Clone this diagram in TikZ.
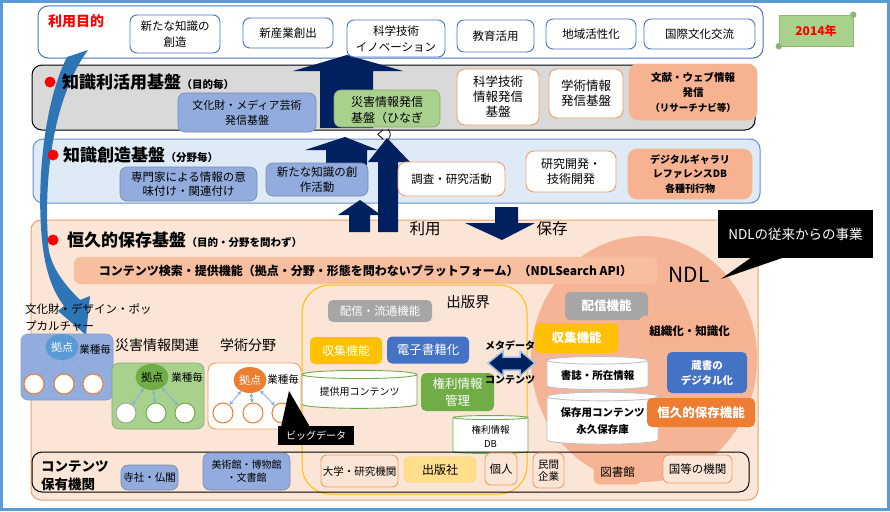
\documentclass[tikz,border=0pt]{standalone}
\usepackage{fontspec}
\setmainfont{Noto Sans CJK JP}
\usepackage{tikz}
\usetikzlibrary{arrows.meta, shapes.geometric, positioning}
\newcommand{\fsz}[2]{\fontsize{#1}{#2}\selectfont}

\definecolor{frameblue}{RGB}{91,155,213}
\definecolor{lineblue}{RGB}{68,114,196}
\definecolor{bandgray}{RGB}{217,217,217}
\definecolor{bandlblue}{RGB}{222,235,247}
\definecolor{bandorange}{RGB}{251,229,214}
\definecolor{boxblue}{RGB}{146,172,221}
\definecolor{boxgreen}{RGB}{169,209,142}
\definecolor{boxsalmon}{RGB}{246,178,145}
\definecolor{searchsalmon}{RGB}{247,190,160}
\definecolor{lineorange}{RGB}{240,160,100}
\definecolor{ndlfill}{RGB}{246,180,150}
\definecolor{navy}{RGB}{0,32,96}
\definecolor{swoosh}{RGB}{46,117,182}
\definecolor{gold}{RGB}{255,192,0}
\definecolor{paleyellow}{RGB}{255,222,140}
\definecolor{deepblue}{RGB}{68,114,196}
\definecolor{grassgreen}{RGB}{112,173,71}
\definecolor{pumpkin}{RGB}{237,125,49}
\definecolor{midgray}{RGB}{166,166,166}
\definecolor{hubblue}{RGB}{91,155,213}
\definecolor{arrowrim}{RGB}{157,195,230}

\tikzset{>=Stealth,
  band/.style={rounded corners=10, line width=1, inner sep=0},
  ubox/.style={draw=lineblue, fill=white, rounded corners=7, line width=0.9, align=center, inner sep=1, font=\fsz{11.5}{16}},
  obox/.style={draw=lineorange, fill=white, rounded corners=8, line width=0.9, align=center, inner sep=1, font=\fsz{12.5}{15}},
  bbox/.style={draw=boxblue!80!black, fill=boxblue, rounded corners=7, line width=0.6, align=center, inner sep=1, font=\fsz{11}{15}},
  gbox/.style={draw=boxgreen!80!black, fill=boxgreen, rounded corners=7, line width=0.6, align=center, inner sep=1},
  sbox/.style={draw=lineorange!70, fill=boxsalmon, rounded corners=9, line width=0.8, align=center, inner sep=1, font=\bfseries\fsz{10.5}{15}},
  func/.style={rounded corners=5, align=center, inner sep=1, text=white, font=\fsz{12.5}{15}},
  store/.style={cylinder, shape border rotate=90, aspect=0.1, draw=#1, line width=0.9, fill=white, align=center, inner sep=1},
  hub/.style={ellipse, minimum width=33, minimum height=26, inner sep=0, font=\fsz{11}{13}},
  member/.style={circle, minimum size=20, inner sep=0, fill=white, draw=#1, line width=1},
  hubarrow/.style={<->, >={Stealth[length=4pt, width=4pt]}, draw=hubblue!80, line width=0.8},
  dot/.style={circle, fill=red, minimum size=11, inner sep=0},
  ttl/.style={anchor=west, inner sep=0, font=\bfseries\fsz{17}{18}},
  ttlsub/.style={anchor=base west, inner sep=0, font=\bfseries\fsz{10.5}{12}},
  plain/.style={inner sep=0, align=left},
  blackbox/.style={fill=black, text=white, inner sep=0},
  orgbox/.style={draw=lineorange, fill=bandorange, rounded corners=6, line width=0.9, align=center, inner sep=1, font=\fsz{10.5}{13}},
}

\begin{document}
\begin{tikzpicture}[x=1pt, y=-1pt]
\useasboundingbox (0,0) rectangle (890,511);
\draw[frameblue, line width=3] (1.5,1.5) rectangle (888.5,509.5);

% bands
\node[band, draw=lineblue, fill=white, minimum width=725, minimum height=52] (purpose) at (400.5,32) {};
\node[band, draw=black, fill=bandgray, minimum width=723, minimum height=65] (usebase) at (393.5,97.5) {};
\node[band, draw=lineblue!80, fill=bandlblue, minimum width=727, minimum height=64] (createbase) at (396.5,171) {};
\node[band, draw=lineorange, fill=bandorange, minimum width=727, minimum height=280] (keepbase) at (394.5,360) {};

% swoosh from the cultural field up to the purposes
\fill[swoosh] (67,57) .. controls (45,100) and (36,180) .. (42,240) .. controls (45,270) and (52,290) .. (64,306) -- (58,311) -- (86,335) -- (90,296) -- (80,300) .. controls (60,280) and (48,262) .. (48,240) .. controls (44,180) and (52,100) .. (88,50) -- cycle;

% block arrows
\fill[navy] (320,128) -- (320,71) -- (293,71) -- (347,55) -- (403,71) -- (373,71) -- (373,128) -- cycle;
\fill[navy] (326,165) -- (326,150) -- (305,150) -- (345,137) -- (378,150) -- (367,150) -- (367,165) -- cycle;
\fill[navy] (349,232) -- (349,215) -- (338,215) -- (360,200) -- (381,215) -- (370,215) -- (370,232) -- cycle;
\fill[navy] (378,232) -- (378,162) -- (368,162) -- (387,138) -- (410,162) -- (398,162) -- (398,232) -- cycle;
\fill[navy] (495,207) -- (518,207) -- (518,223) -- (535,223) -- (502,240) -- (465,223) -- (495,223) -- cycle;
\node[inner sep=0, font=\fsz{15.5}{16}] (use) at (425,229) {利用};
\node[inner sep=0, font=\fsz{15.5}{16}] (keep) at (552,229) {保存};

% purposes
\node[inner sep=0, text=red, font=\bfseries\fsz{14}{16}, anchor=west] (purposettl) at (48,21) {利用目的};
\node[ubox, minimum width=90, minimum height=38] (newknow) at (175,34) {新たな知識の\\創造};
\node[ubox, minimum width=90, minimum height=30] (industry) at (288,33) {新産業創出};
\node[ubox, minimum width=98, minimum height=37] (innov) at (396,38.5) {科学技術\\イノベーション};
\node[ubox, minimum width=77, minimum height=32] (edu) at (495.5,36) {教育活用};
\node[ubox, minimum width=90, minimum height=30] (region) at (591,34) {地域活性化};
\node[ubox, minimum width=111, minimum height=30] (intl) at (699.5,34) {国際文化交流};

\node[draw=grassgreen!80, fill=boxgreen, minimum width=74, minimum height=31, text=red, font=\bfseries\fsz{12}{14}] (year) at (816,30.5) {2014年};
\draw[grassgreen!80, fill=boxgreen!85!black] (year.north east) circle (3pt);
\draw[grassgreen!80, fill=boxgreen!85!black] (year.south west) circle (3pt);

% knowledge use
\node[dot] (dotuse) at (50,82) {};
\node[ttl] (usettl) at (62,82) {知識利活用基盤};
\node[ttlsub] (usesub) at (usettl.base east) {（目的毎）};
\node[bbox, minimum width=138, minimum height=39] (media) at (247,112.5) {文化財・メディア芸術\\発信基盤};
\node[gbox, minimum width=106, minimum height=37] (hinagiku) at (387,108.5) {};
\node[inner sep=0, align=center, anchor=north, font=\fsz{12}{16.5}] (hinagikutxt) at (387,96) {災害情報発信\\基盤（ひなぎ\\く）};
\node[obox, minimum width=82, minimum height=56] (scitech) at (498,97) {科学技術\\情報発信\\基盤};
\node[obox, minimum width=74, minimum height=49] (academic) at (586,93.5) {学術情報\\発信基盤};
\node[sbox, minimum width=128, minimum height=56] (research) at (693,92) {文献・ウェブ情報\\発信\\{\fsz{9.5}{12}（リサーチナビ等）}};

% knowledge creation
\node[dot] (dotcreate) at (53,155) {};
\node[ttl] (createttl) at (63,155) {知識創造基盤};
\node[ttlsub] (createsub) at (createttl.base east) {（分野毎）};
\node[bbox, minimum width=137, minimum height=34, font=\fsz{11.5}{14}] (expert) at (188.5,184) {専門家による情報の意\\味付け・関連付け};
\node[bbox, minimum width=102, minimum height=33, font=\fsz{11.5}{15}] (creation) at (317,179.5) {新たな知識の創\\作活動};
\node[obox, minimum width=107, minimum height=34, font=\fsz{11.5}{14}] (survey) at (451.5,179) {調査・研究活動};
\node[obox, minimum width=90, minimum height=41, font=\fsz{12}{15}] (rnd) at (571,171.5) {研究開発・\\技術開発};
\node[sbox, minimum width=124, minimum height=50, font=\bfseries\fsz{10}{14.5}] (gallery) at (690,174) {デジタルギャラリ\\レファレンスDB\\各種刊行物};

% permanent preservation
\node[dot] (dotkeep) at (53,240) {};
\node[ttl] (keepttl) at (67,240) {恒久的保存基盤};
\node[ttlsub] (keepsub) at (keepttl.base east) {（目的・分野を問わず）};

\fill[ndlfill] (644,359) ellipse [x radius=113pt, y radius=123pt];
\node[draw=lineorange!60, fill=searchsalmon, rounded corners=7, minimum width=583, minimum height=27, font=\bfseries\fsz{12}{14}] (search) at (365.5,270.5) {コンテンツ検索・提供機能（拠点・分野・形態を問わないプラットフォーム）（NDLSearch API）};
\node[inner sep=0, font=\fsz{21}{22}] (ndl) at (689,275) {NDL};
\node[blackbox, minimum width=155, minimum height=48, font=\fsz{13.5}{15}] (legacy) at (795.5,234) {NDLの従来からの事業};
\fill[black] (752,257) -- (721,279) -- (785,257) -- cycle;

% publishing world
\node[draw=gold, line width=1, rounded corners=28, minimum width=225, minimum height=209] (pub) at (414.5,389.5) {};
\node[inner sep=0, font=\fsz{14.5}{16}] (pubttl) at (468,302) {出版界};
\node[func, fill=midgray, minimum width=104, minimum height=22, font=\fsz{11.5}{13}] (pubdeliver) at (380,311) {配信・流通機能};
\node[func, fill=gold, minimum width=72, minimum height=27, font=\fsz{12}{14}] (pubcollect) at (346,350.5) {収集機能};
\node[func, fill=deepblue, minimum width=82, minimum height=27] (ebook) at (428,350) {電子書籍化};
\node[store=grassgreen, minimum width=115, minimum height=38, font=\fsz{10}{12}] (offer) at (359.5,392) {提供用コンテンツ};
\node[func, fill=grassgreen, minimum width=73, minimum height=38, font=\fsz{12.5}{17}] (rights) at (457.5,392) {権利情報\\管理};
\node[store=grassgreen, minimum width=75, minimum height=38, font=\fsz{9.5}{14}] (rightsdb) at (490.5,436) {権利情報\\DB};

% metadata exchange
\filldraw[fill=navy, draw=arrowrim, line width=1.5] (488,363) -- (503,351) -- (503,357) -- (520,357) -- (520,351) -- (535,363) -- (520,376) -- (520,370) -- (503,370) -- (503,376) -- cycle;
\node[inner sep=0, font=\bfseries\fsz{10}{12}] (meta) at (510,346) {メタデータ};
\node[inner sep=0, font=\bfseries\fsz{10}{12}] (contents) at (510,380) {コンテンツ};

% NDL functions
\node[func, fill=midgray, minimum width=83, minimum height=28, font=\bfseries\fsz{12.5}{14}] (ndldeliver) at (606.5,306) {配信機能};
\node[func, fill=gold, minimum width=83, minimum height=30, font=\bfseries\fsz{12.5}{14}] (ndlcollect) at (576.5,338) {収集機能};
\node[sbox, minimum width=103, minimum height=30, font=\bfseries\fsz{11.5}{14}] (organize) at (689.5,331) {組織化・知識化};
\node[store=midgray!70, minimum width=101, minimum height=33, font=\bfseries\fsz{10.5}{12}] (biblio) at (597.5,375.5) {書誌・所在情報};
\node[func, fill=deepblue, minimum width=80, minimum height=41, font=\bfseries\fsz{10.5}{15}] (digitize) at (707,372.5) {蔵書の\\デジタル化};
\node[store=midgray!70, minimum width=111, minimum height=52, font=\bfseries\fsz{10.5}{17}] (archive) at (602.5,421) {保存用コンテンツ\\永久保存庫};
\node[func, fill=pumpkin, minimum width=108, minimum height=29, font=\bfseries\fsz{12.5}{14}] (preserve) at (701,412.5) {恒久的保存機能};

% fields
\node[plain, anchor=west, font=\fsz{11.5}{17}] (culturettl) at (25,318) {文化財・デザイン・ポッ\\プカルチャー};
\node[bbox, draw=boxblue!90!black, minimum width=92, minimum height=66] (culture) at (67,367) {};
\node[hub, fill=hubblue, text=white] (hubA) at (62,347) {拠点};
\node[inner sep=0, font=\fsz{10.5}{12}] (kindA) at (95,350) {業種毎};
\node[member=pumpkin] (cA1) at (34,384) {};
\node[member=pumpkin] (cA2) at (64,384) {};
\node[member=pumpkin] (cA3) at (93,384) {};
\draw[hubarrow] (hubA) -- (cA1);
\draw[hubarrow] (hubA) -- (cA2);
\draw[hubarrow] (hubA) -- (cA3);

\node[plain, anchor=west, font=\fsz{14}{16}] (disasterttl) at (115,345) {災害情報関連};
\node[gbox, minimum width=92, minimum height=66] (disaster) at (158,396) {};
\node[hub, fill=grassgreen] (hubB) at (152,377) {拠点};
\node[inner sep=0, font=\fsz{10.5}{12}] (kindB) at (187,378) {業種毎};
\node[member=midgray] (cB1) at (126,413) {};
\node[member=grassgreen] (cB2) at (156,413) {};
\node[member=grassgreen] (cB3) at (185,413) {};
\draw[hubarrow] (hubB) -- (cB1);
\draw[hubarrow] (hubB) -- (cB2);
\draw[hubarrow] (hubB) -- (cB3);

\node[plain, anchor=west, font=\fsz{14}{16}] (sciencettl) at (220,345) {学術分野};
\node[obox, minimum width=93, minimum height=66] (science) at (254.5,396) {};
\node[hub, fill=pumpkin, text=white] (hubC) at (250,380) {拠点};
\node[inner sep=0, font=\fsz{10.5}{12}] (kindC) at (283,380) {業種毎};
\node[member=pumpkin] (cC1) at (223,413) {};
\node[member=pumpkin] (cC2) at (253,413) {};
\node[member=pumpkin] (cC3) at (282,413) {};
\draw[hubarrow] (hubC) -- (cC1);
\draw[hubarrow] (hubC) -- (cC2);
\draw[hubarrow] (hubC) -- (cC3);

\fill[black] (289,391) -- (310,427) -- (281,427) -- cycle;
\node[blackbox, minimum width=76, minimum height=19, font=\fsz{10}{12}] (bigdata) at (316,435.5) {ビッグデータ};

% holders
\node[band, draw=black, minimum width=717, minimum height=40] (holders) at (390.5,472) {};
\node[plain, anchor=west, font=\bfseries\fsz{13.5}{18}] (holderttl) at (41,476) {コンテンツ\\保有機関};
\node[bbox, minimum width=57, minimum height=25, font=\fsz{10.5}{12}] (temple) at (149.5,477.5) {寺社・仏閣};
\node[bbox, minimum width=87, minimum height=37, font=\fsz{10}{13}] (museum) at (246.5,471.5) {美術館・博物館\\・文書館};
\node[orgbox, minimum width=77, minimum height=32] (univ) at (359.5,471) {大学・研究機関};
\node[orgbox, draw=paleyellow!90!orange, fill=paleyellow, minimum width=72, minimum height=25, font=\fsz{12}{13}] (publisher) at (440,469.5) {出版社};
\node[orgbox, minimum width=32, minimum height=32, font=\fsz{11.5}{13}] (person) at (501,469) {個人};
\node[orgbox, minimum width=31, minimum height=35, font=\fsz{10.5}{12}] (company) at (548.5,470.5) {民間\\企業};
\node[orgbox, fill=boxsalmon, draw=boxsalmon, minimum width=47, minimum height=23, font=\fsz{11.5}{13}] (library) at (617.5,472.5) {図書館};
\node[orgbox, minimum width=69, minimum height=28, font=\fsz{11.5}{13}] (govt) at (697.5,469) {国等の機関};
\end{tikzpicture}
\end{document}
